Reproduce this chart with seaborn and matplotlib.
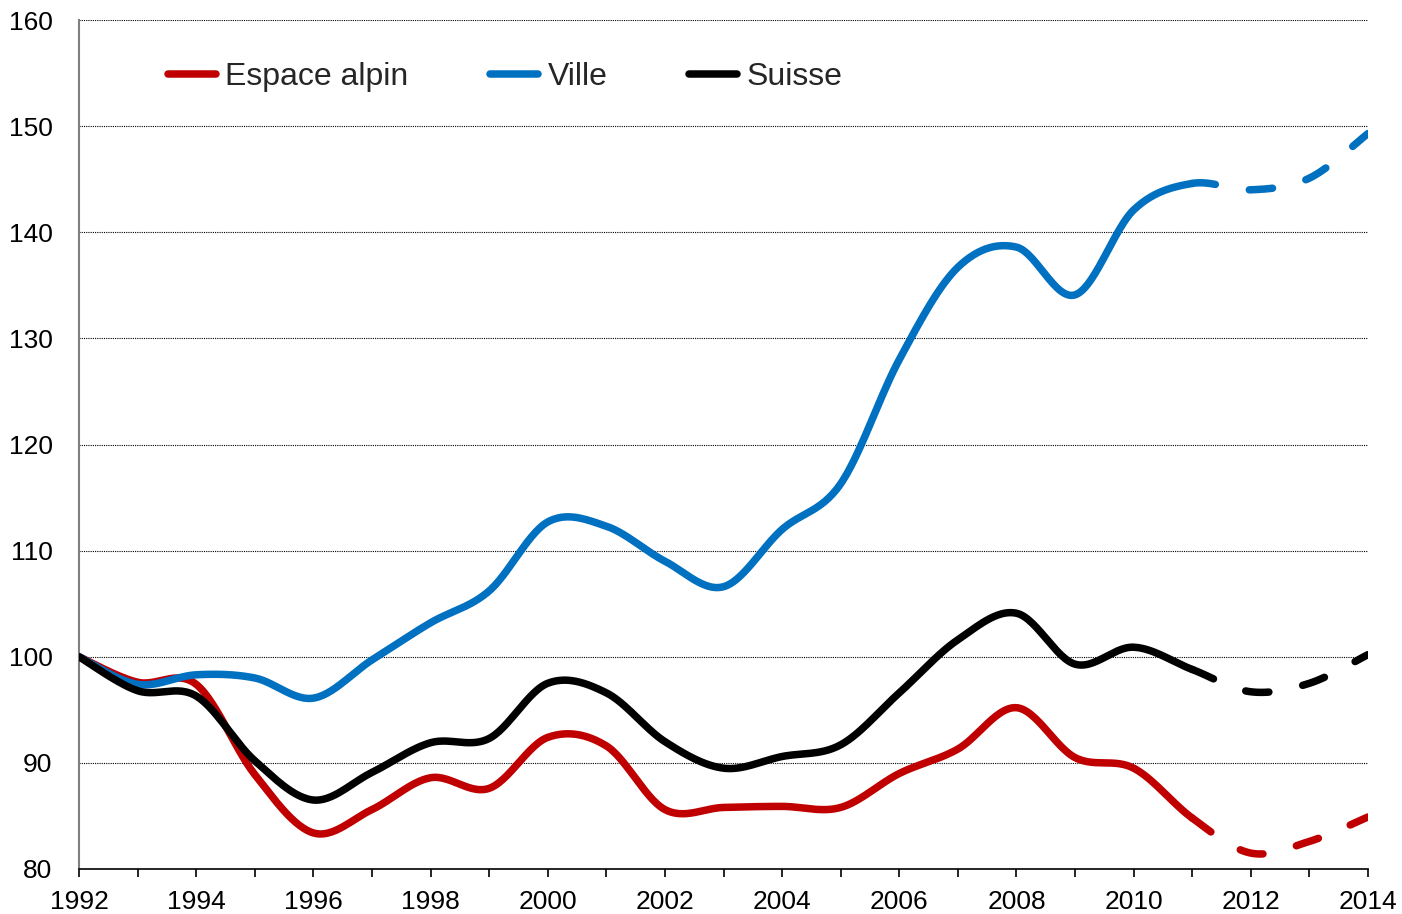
import numpy as np
import pandas as pd
import matplotlib
matplotlib.use("Agg")
import matplotlib.pyplot as plt
import seaborn as sns
from matplotlib.lines import Line2D

years = list(range(1992, 2015))
espace_alpin = [100, 97.6, 97.4, 88.9, 83.4, 85.6, 88.6, 87.6, 92.4, 91.6, 85.6, 85.8,
                85.9, 85.8, 89.0, 91.3, 95.2, 90.5, 89.5, 84.8, 81.5, 82.6, 84.9]
ville = [100, 97.4, 98.3, 98.0, 96.1, 99.7, 103.2, 106.2, 112.7, 112.3, 109.0, 106.6,
         112.0, 116.3, 128.0, 136.7, 138.6, 134.1, 142.1, 144.6, 144.0, 145.1, 149.3]
suisse = [100, 96.8, 96.3, 90.2, 86.5, 89.1, 91.9, 92.3, 97.5, 96.6, 92.0, 89.5,
          90.6, 91.7, 96.6, 101.6, 104.1, 99.3, 100.9, 98.8, 96.7, 97.5, 100.2]
series_names = ["Espace alpin", "Ville", "Suisse"]
colors = ["#C00000", "#0070C0", "#000000"]
last_observed = 2011  # after this: dashed


def smooth_path(x, y, n=30):
    # Excel-like smoothed line: cubic bezier through every point
    x = np.asarray(x, float)
    y = np.asarray(y, float)
    px = np.concatenate([[x[0]], x, [x[-1]]])
    py = np.concatenate([[y[0]], y, [y[-1]]])
    xs, ys = [], []
    t = np.linspace(0, 1, n)
    for i in range(len(x) - 1):
        p0 = np.array([px[i + 1], py[i + 1]])
        p3 = np.array([px[i + 2], py[i + 2]])
        c1 = p0 + (np.array([px[i + 2], py[i + 2]]) - np.array([px[i], py[i]])) / 6
        c2 = p3 - (np.array([px[i + 3], py[i + 3]]) - np.array([px[i + 1], py[i + 1]])) / 6
        b = ((1 - t) ** 3)[:, None] * p0 + (3 * (1 - t) ** 2 * t)[:, None] * c1 \
            + (3 * (1 - t) * t ** 2)[:, None] * c2 + (t ** 3)[:, None] * p3
        if i > 0:
            b = b[1:]
        xs.extend(b[:, 0])
        ys.extend(b[:, 1])
    return np.array(xs), np.array(ys)


sns.set_theme(style="white")
plt.rcParams["font.family"] = ["Liberation Sans", "DejaVu Sans"]

fig = plt.figure(figsize=(14.02, 9.14), dpi=100)
ax = fig.add_axes([79 / 1402, 1 - 869 / 914, (1368 - 79) / 1402, (869 - 20) / 914])

lw = 5.4
handles = []
for name, vals, col in zip(series_names, [espace_alpin, ville, suisse], colors):
    sx, sy = smooth_path(years, vals)
    df = pd.DataFrame({"annee": sx, "valeur": sy})
    solid = df[df["annee"] <= last_observed]
    dashed = df[df["annee"] >= last_observed]
    sns.lineplot(x="annee", y="valeur", data=solid, color=col, linewidth=lw,
                 sort=False, ax=ax, solid_capstyle="round", zorder=3)
    sns.lineplot(x="annee", y="valeur", data=dashed, color=col, linewidth=lw,
                 sort=False, ax=ax, dash_capstyle="round", zorder=3)
    ax.lines[-1].set_dashes((3.1, 4.6))
    handles.append(Line2D([], [], color=col, linewidth=lw, solid_capstyle="round",
                          label=name))

ax.set_xlim(1992, 2014)
ax.set_ylim(80, 160)
ax.set_xticks(range(1992, 2015, 2))
ax.set_xticks(range(1992, 2015), minor=True)
ax.set_yticks(range(80, 161, 10))
ax.set_xlabel("")
ax.set_ylabel("")

ax.yaxis.grid(True, color="black", linestyle=(0, (1, 1)), linewidth=0.8)
ax.xaxis.grid(False)
ax.set_axisbelow(True)

for s in ["top", "right"]:
    ax.spines[s].set_visible(False)
ax.spines["left"].set_color("#808080")
ax.spines["left"].set_linewidth(1.5)
ax.spines["bottom"].set_color("black")
ax.spines["bottom"].set_linewidth(1.2)

ax.tick_params(axis="x", which="both", direction="out", length=6, width=1.2,
               color="black", bottom=True, labelsize=19, pad=9)
ax.tick_params(axis="y", length=0, labelsize=19, pad=19)
for lab in ax.get_xticklabels() + ax.get_yticklabels():
    lab.set_color("black")

ax.legend(handles=handles, ncol=3, frameon=False, fontsize=23,
          loc="center left", bbox_to_anchor=(0.069, 0.9325),
          borderpad=0, borderaxespad=0, handlelength=1.5,
          handletextpad=0.3, columnspacing=2.55)

plt.savefig("out.png", dpi=100)
